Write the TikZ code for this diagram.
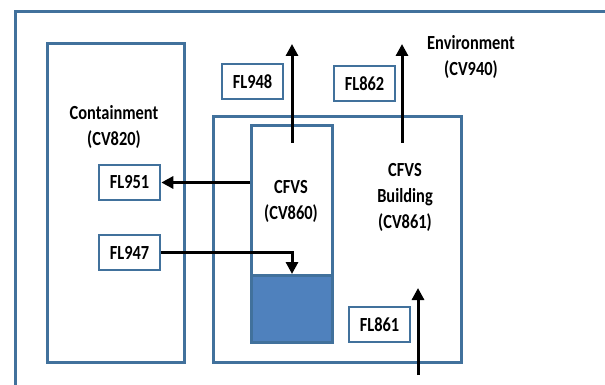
\documentclass[tikz,border=0pt]{standalone}
\usepackage{fontspec}
\setmainfont[FakeStretch=0.82]{Carlito}
\usetikzlibrary{arrows.meta}
\definecolor{bord}{RGB}{65,113,156}
\definecolor{water}{RGB}{79,129,189}
\begin{document}
\begin{tikzpicture}[x=1pt,y=-1pt,
  box/.style={draw=bord,line width=2.6pt,inner sep=0pt},
  lab/.style={box,fill=white,minimum width=61pt,minimum height=35pt,font=\fontsize{20}{24}\selectfont\bfseries},
  txt/.style={align=center,font=\fontsize{20}{26}\selectfont\bfseries,inner sep=0pt},
  flow/.style={line width=3pt,-{Triangle[width=12pt,length=12pt]}}]
\useasboundingbox (0,0) rectangle (605,385);
\clip (0,0) rectangle (605,385);
\fill[white] (0,0) rectangle (605,385);
% outer frame
\node[box,minimum width=620pt,minimum height=400pt,anchor=north west] (env) at (14,10) {};
% containment
\node[box,minimum width=137pt,minimum height=319pt,anchor=north west] (cont) at (46,42) {};
% CFVS building
\node[box,minimum width=248pt,minimum height=246pt,anchor=north west] (bldg) at (212,115) {};
% CFVS vessel
\node[box,minimum width=81pt,minimum height=216pt,anchor=north west] (cfvs) at (250,124) {};
\node[box,fill=water,minimum width=81pt,minimum height=67pt,anchor=north west] (pool) at (250,274) {};
% texts
\node[txt] (tenv) at (471,57) {Environment\\(CV940)};
\node[txt] (tcont) at (114,127) {Containment\\(CV820)};
\node[txt] (tcfvs) at (291,201) {CFVS\\(CV860)};
\node[txt] (tbldg) at (405,197) {CFVS\\Building\\(CV861)};
% flow labels
\node[lab] (fl948) at (252.5,81.5) {FL948};
\node[lab] (fl862) at (364.5,83.5) {FL862};
\node[lab] (fl951) at (129.5,182.5) {FL951};
\node[lab] (fl947) at (129.5,252.5) {FL947};
\node[lab] (fl861) at (379.5,324.5) {FL861};
% flow coordinates
\coordinate (a1) at (292,143);
\coordinate (a2) at (292,44);
\coordinate (b1) at (402,143);
\coordinate (b2) at (402,44);
\coordinate (c1) at (418,375);
\coordinate (c2) at (418,288);
% arrows
\draw[flow] (a1) -- (a2);
\draw[flow] (b1) -- (b2);
\draw[flow] (cfvs.west |- fl951) -- (fl951.east);
\draw[flow] (fl947.east) -| (pool.north -| a1);
\draw[flow] (c1) -- (c2);
\end{tikzpicture}
\end{document}
